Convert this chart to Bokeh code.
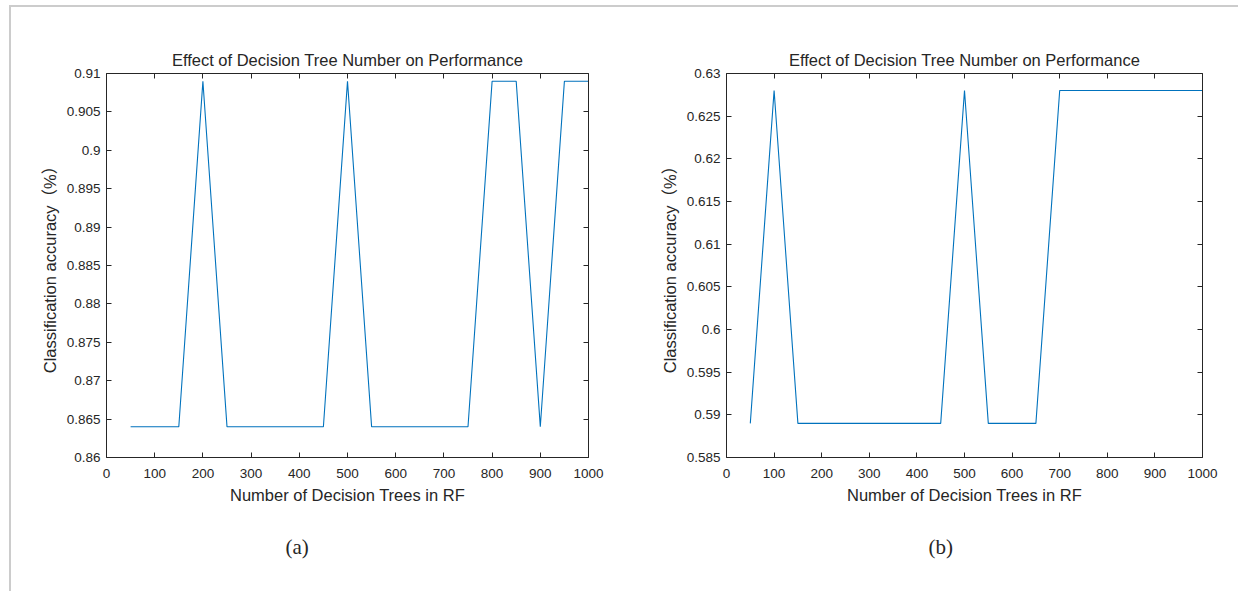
from bokeh.plotting import figure
from bokeh.models import Range1d, LinearAxis, FixedTicker, Title, ColumnDataSource
from bokeh.layouts import row
from bokeh.embed import file_html
from bokeh.resources import INLINE

# ---------------- data ----------------
trees = [50, 100, 150, 200, 250, 300, 350, 400, 450, 500,
         550, 600, 650, 700, 750, 800, 850, 900, 950, 1000]
acc_a = [0.864, 0.864, 0.864, 0.909, 0.864, 0.864, 0.864, 0.864, 0.864, 0.909,
         0.864, 0.864, 0.864, 0.864, 0.864, 0.909, 0.909, 0.864, 0.909, 0.909]
acc_b = [0.589, 0.628, 0.589, 0.589, 0.589, 0.589, 0.589, 0.589, 0.589, 0.628,
         0.589, 0.589, 0.589, 0.628, 0.628, 0.628, 0.628, 0.628, 0.628, 0.628]

x_ticks = [0, 100, 200, 300, 400, 500, 600, 700, 800, 900, 1000]
y_ticks_a = [0.86, 0.865, 0.87, 0.875, 0.88, 0.885, 0.89, 0.895, 0.9, 0.905, 0.91]
y_labels_a = ["0.86", "0.865", "0.87", "0.875", "0.88", "0.885", "0.89", "0.895", "0.9", "0.905", "0.91"]
y_ticks_b = [0.585, 0.59, 0.595, 0.6, 0.605, 0.61, 0.615, 0.62, 0.625, 0.63]
y_labels_b = ["0.585", "0.59", "0.595", "0.6", "0.605", "0.61", "0.615", "0.62", "0.625", "0.63"]

title_text = "Effect of Decision Tree Number on Performance"
x_label = "Number of Decision Trees in RF"
y_label = "Classification accuracy\uff08%\uff09"
captions = ["(a)", "(b)"]

FONT = "Liberation Sans, Arial, Noto Sans CJK SC, sans-serif"
INK = "#262626"
LINE = "#0072BD"


def style_axis(ax, ticks, labels=None):
    ax.ticker = FixedTicker(ticks=ticks)
    ax.axis_line_color = INK
    ax.axis_line_width = 1
    ax.major_tick_line_color = INK
    ax.major_tick_in = 5
    ax.major_tick_out = 0
    ax.minor_tick_line_color = None
    ax.major_label_text_font = FONT
    ax.major_label_text_color = INK
    ax.major_label_text_font_size = "13.5px"
    ax.axis_label_text_font = FONT
    ax.axis_label_text_font_size = "16.5px"
    ax.axis_label_text_font_style = "normal"
    ax.axis_label_text_color = INK
    if labels is not None:
        ax.major_label_overrides = {t: s for t, s in zip(ticks, labels)}


def make_panel(xs, ys, yr, yticks, ylabels, caption, width, left, right, cap_offset):
    p = figure(width=width, height=584, output_backend="svg", toolbar_location=None,
               x_range=Range1d(0, 1000), y_range=Range1d(yr[0], yr[1]),
               min_border_left=left, min_border_right=right,
               min_border_top=66, min_border_bottom=134)
    p.background_fill_color = "white"
    p.border_fill_color = "white"
    p.outline_line_color = None
    p.xgrid.visible = False
    p.ygrid.visible = False

    p.title.text = title_text
    p.title.align = "center"
    p.title.text_font = FONT
    p.title.text_font_size = "16.5px"
    p.title.text_font_style = "normal"
    p.title.text_color = INK
    p.title.standoff = 9

    src = ColumnDataSource(dict(x=xs, y=ys))
    p.line(x="x", y="y", source=src, line_color=LINE, line_width=1.1)

    xa = p.xaxis[0]
    style_axis(xa, x_ticks)
    xa.axis_label = x_label
    xa.major_label_standoff = 11
    xa.axis_label_standoff = 5

    ya = p.yaxis[0]
    style_axis(ya, yticks, ylabels)
    ya.axis_label = y_label
    ya.major_label_standoff = 6
    ya.axis_label_standoff = 5

    top = LinearAxis()
    style_axis(top, x_ticks, ["" for _ in x_ticks])
    top.major_label_standoff = 0
    p.add_layout(top, "above")
    rgt = LinearAxis()
    style_axis(rgt, yticks, ["" for _ in yticks])
    rgt.major_label_standoff = 0
    p.add_layout(rgt, "right")

    cap = Title(text=caption, align="left", offset=cap_offset, standoff=53,
                text_font="Liberation Serif, DejaVu Serif, serif",
                text_font_size="21px", text_font_style="normal", text_color=INK)
    p.add_layout(cap, "below")
    return p


p1 = make_panel(trees, acc_a, (0.86, 0.91), y_ticks_a, y_labels_a, captions[0],
                609, 95, 32, 179)
p2 = make_panel(trees, acc_b, (0.585, 0.63), y_ticks_b, y_labels_b, captions[1],
                618, 106, 36, 202)

layout = row(p1, p2, styles={"border-top": "2px solid #cccccc",
                             "border-left": "2px solid #cccccc",
                             "margin-left": "9px", "margin-top": "5px"})

open("out.html", "w").write(file_html(layout, INLINE))
